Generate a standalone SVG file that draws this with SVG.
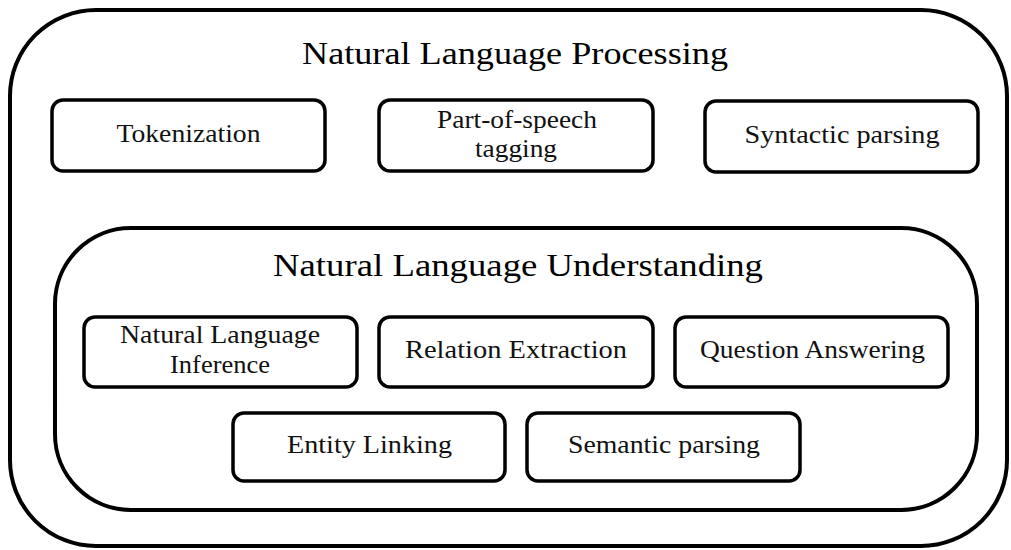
<svg xmlns="http://www.w3.org/2000/svg" width="1011" height="550" viewBox="0 0 1011 550">
<style>
.frame{fill:none;stroke:#000;stroke-width:4}
.box{fill:#fff;stroke:#000;stroke-width:3.5}
text{font-family:'Liberation Serif','Times New Roman',serif;fill:#111;text-anchor:middle}
.t{font-size:25px}
.h{font-size:32px;fill:#000}
</style>
<rect width="1011" height="550" fill="#fff"/>
<g id="nlp">
<rect class="frame" x="10" y="10" width="997" height="536" rx="86" ry="86"/>
<text class="h" x="515" y="64" textLength="426" lengthAdjust="spacingAndGlyphs">Natural Language Processing</text>
</g>
<g id="tokenization">
<rect class="box" x="52" y="100" width="273" height="71" rx="11"/>
<text class="t" x="188.5" y="142" textLength="144" lengthAdjust="spacingAndGlyphs">Tokenization</text>
</g>
<g id="pos">
<rect class="box" x="379" y="100" width="274" height="71" rx="11"/>
<text class="t" x="517" y="128" textLength="160" lengthAdjust="spacingAndGlyphs">Part-of-speech</text>
<text class="t" x="516" y="157" textLength="82" lengthAdjust="spacingAndGlyphs">tagging</text>
</g>
<g id="syntactic">
<rect class="box" x="705" y="101" width="273" height="71" rx="11"/>
<text class="t" x="842" y="143" textLength="195" lengthAdjust="spacingAndGlyphs">Syntactic parsing</text>
</g>
<g id="nlu">
<rect class="frame" x="55" y="228" width="922" height="282" rx="76" ry="76"/>
<text class="h" x="518" y="276" textLength="490" lengthAdjust="spacingAndGlyphs">Natural Language Understanding</text>
</g>
<g id="nli">
<rect class="box" x="84" y="317" width="273" height="70" rx="11"/>
<text class="t" x="220" y="343" textLength="200" lengthAdjust="spacingAndGlyphs">Natural Language</text>
<text class="t" x="220" y="373" textLength="100" lengthAdjust="spacingAndGlyphs">Inference</text>
</g>
<g id="relation">
<rect class="box" x="379" y="317" width="274" height="70" rx="11"/>
<text class="t" x="516" y="358" textLength="222" lengthAdjust="spacingAndGlyphs">Relation Extraction</text>
</g>
<g id="qa">
<rect class="box" x="675" y="317" width="273" height="70" rx="11"/>
<text class="t" x="812.5" y="358" textLength="225" lengthAdjust="spacingAndGlyphs">Question Answering</text>
</g>
<g id="entity">
<rect class="box" x="233" y="413" width="272" height="68" rx="11"/>
<text class="t" x="369.5" y="453" textLength="165" lengthAdjust="spacingAndGlyphs">Entity Linking</text>
</g>
<g id="semantic">
<rect class="box" x="527" y="413" width="273" height="68" rx="11"/>
<text class="t" x="664" y="453" textLength="192" lengthAdjust="spacingAndGlyphs">Semantic parsing</text>
</g>
<g id="connectors"></g>
</svg>
